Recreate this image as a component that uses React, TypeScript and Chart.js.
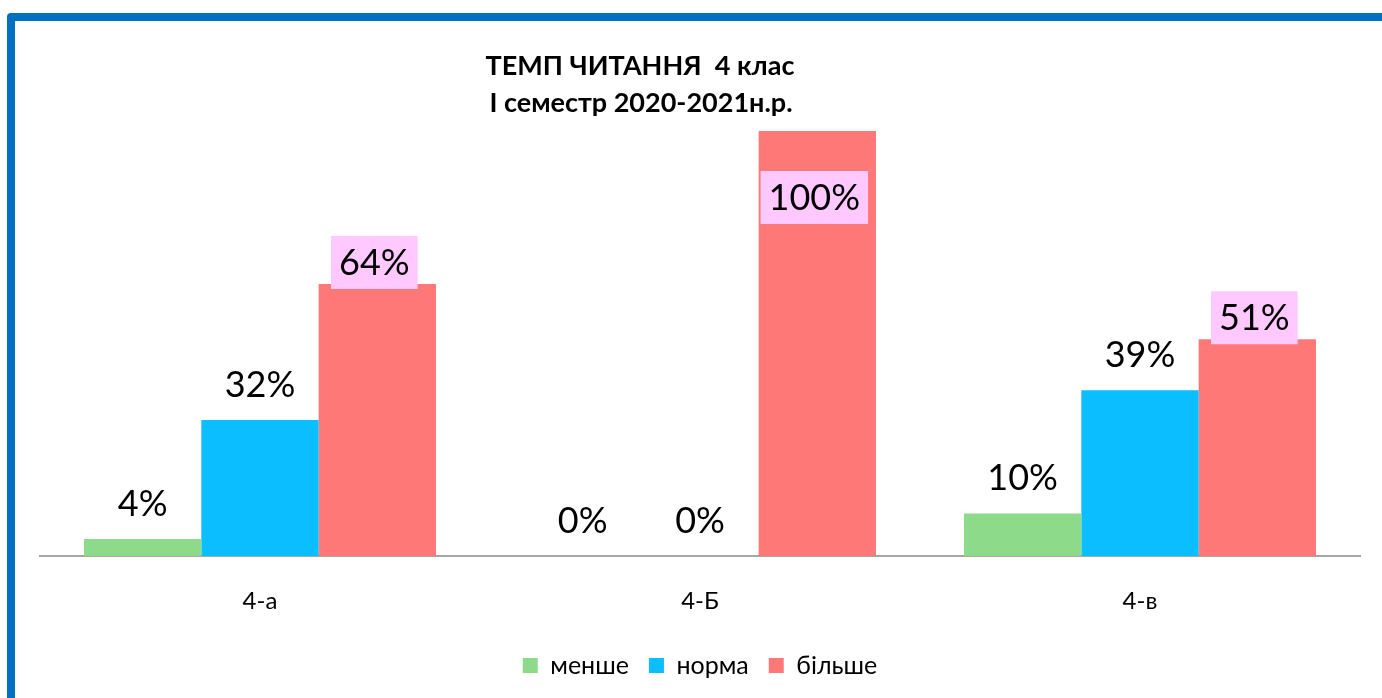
import React, { useEffect, useRef } from "react";
import { Chart, registerables } from "chart.js";

Chart.register(...registerables);

const categories = ["4-а", "4-Б", "4-в"];
const seriesNames = ["менше", "норма", "більше"];
const lessValues = [4, 0, 10];
const normValues = [32, 0, 39];
const moreValues = [64, 100, 51];
const titleLines = ["ТЕМП ЧИТАННЯ  4 клас", "І семестр 2020-2021н.р."];

const colors = ["#8CDA8A", "#0ABEFF", "#FF7878"];
const FONT = "Lato, 'Open Sans', sans-serif";

const labelPlugin = {
  id: "valueLabels",
  afterDatasetsDraw(chart: any) {
    const ctx = chart.ctx;
    ctx.save();
    ctx.font = `36px ${FONT}`;
    ctx.textAlign = "center";
    ctx.textBaseline = "middle";
    chart.data.datasets.forEach((ds: any, i: number) => {
      const meta = chart.getDatasetMeta(i);
      meta.data.forEach((bar: any, j: number) => {
        const v = ds.data[j];
        const text = `${v}%`;
        let cy: number;
        if (i === 2) {
          if (bar.y - chart.chartArea.top < 80) cy = bar.y + 66;
          else cy = bar.y - 22;
          const w = ctx.measureText(text).width + 16;
          ctx.fillStyle = "#FFC9FF";
          ctx.fillRect(bar.x - w / 2 - 3, cy - 26, w, 53);
          ctx.fillStyle = "#000";
          ctx.fillText(text, bar.x - 3, cy + 1);
        } else {
          cy = bar.y - 36;
          ctx.fillStyle = "#000";
          ctx.fillText(text, bar.x, cy + 1);
        }
      });
    });
    ctx.restore();
  },
};

const titlePlugin = {
  id: "customTitle",
  afterDraw(chart: any) {
    const ctx = chart.ctx;
    ctx.save();
    ctx.font = `bold 27px ${FONT}`;
    ctx.fillStyle = "#000";
    ctx.textAlign = "center";
    ctx.textBaseline = "middle";
    ctx.fillText(titleLines[0], 640, 66);
    ctx.fillText(titleLines[1], 641, 103);
    ctx.restore();
  },
};

export default function App() {
  const ref = useRef<HTMLCanvasElement>(null);
  useEffect(() => {
    if (!ref.current) return;
    const values = [lessValues, normValues, moreValues];
    const chart = new Chart(ref.current, {
      type: "bar",
      data: {
        labels: categories,
        datasets: seriesNames.map((name, i) => ({
          label: name,
          data: values[i],
          backgroundColor: colors[i],
          borderWidth: 0,
          categoryPercentage: 0.8,
          barPercentage: 1.0,
        })),
      },
      options: {
        responsive: false,
        animation: false,
        devicePixelRatio: 1,
        layout: { padding: { left: 40, right: 22, top: 131, bottom: 10 } },
        plugins: {
          legend: {
            position: "bottom",
            labels: {
              font: { size: 25, family: FONT },
              color: "#000",
              boxWidth: 15,
              boxHeight: 15,
              padding: 20,
            },
          },
          title: { display: false },
          tooltip: { enabled: false },
        },
        scales: {
          x: {
            grid: { display: false, drawTicks: false },
            border: { display: true, color: "#A6A6A6", width: 2 },
            ticks: { font: { size: 24, family: FONT }, color: "#000", padding: 31 },
            afterFit: (scale: any) => {
              scale.height = 77;
            },
          },
          y: {
            display: false,
            min: 0,
            max: 100,
          },
        },
      },
      plugins: [labelPlugin, titlePlugin],
    });
    return () => chart.destroy();
  }, []);

  return (
    <div
      style={{
        position: "fixed",
        left: 0,
        top: 0,
        width: 1382,
        height: 698,
        overflow: "hidden",
        background: "#fff",
      }}
    >
      <canvas
        ref={ref}
        width={1382}
        height={698}
        style={{ position: "absolute", left: 0, top: 0, width: 1382, height: 698 }}
      />
      <div
        style={{
          position: "absolute",
          left: 7,
          top: 13,
          width: 1500,
          height: 900,
          border: "8px solid #0070C0",
          borderRadius: 4,
          boxSizing: "border-box",
          pointerEvents: "none",
        }}
      />
    </div>
  );
}
